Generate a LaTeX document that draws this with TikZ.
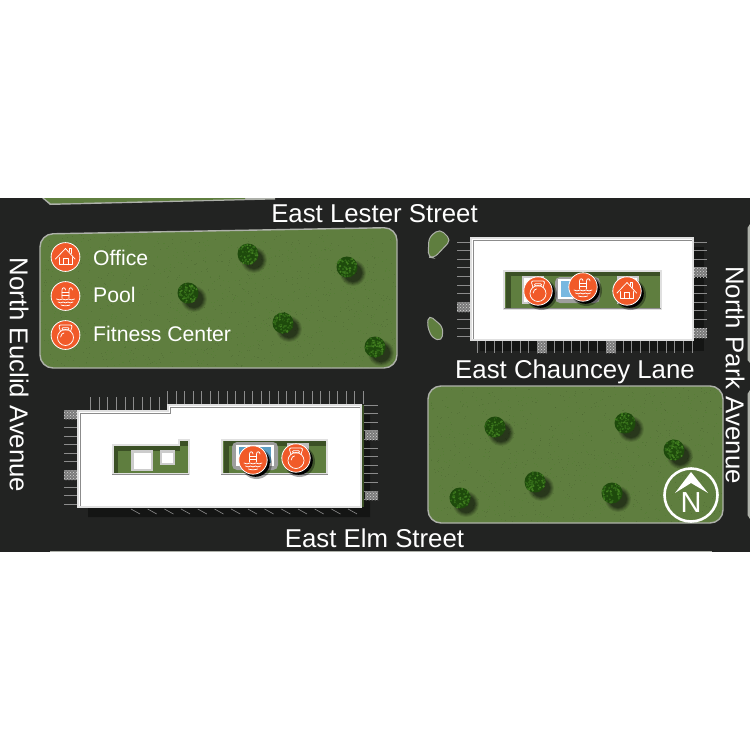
\documentclass[tikz,border=0pt]{standalone}
\usepackage{fontspec}
\setmainfont{Liberation Sans}
\usetikzlibrary{patterns}
\definecolor{road}{HTML}{222322}
\definecolor{grass}{HTML}{5F7E3F}
\definecolor{grassdark}{HTML}{3B5025}
\definecolor{orangeicon}{HTML}{F15A29}
\definecolor{edgegray}{HTML}{AEB1AA}
\definecolor{stripe}{HTML}{8C8C8C}
\definecolor{shadowc}{HTML}{141514}
\definecolor{treelite}{HTML}{427F20}
\definecolor{treedark}{HTML}{1E4A0C}
\definecolor{treemid}{HTML}{326A18}
\definecolor{poollight}{HTML}{78B8E0}
\definecolor{pooldeep}{HTML}{5C9DC2}
\colorlet{HTMLlight}{black!12}
\tikzset{
  block/.style={fill=grass,draw=edgegray,line width=1.4pt,rounded corners=13pt},
  stripeline/.style={draw=stripe,line width=0.9pt},
  streetlabel/.style={text=white,font=\fontsize{25.8}{28}\selectfont,inner sep=0pt},
  legendlabel/.style={text=white,font=\fontsize{21.2}{24}\selectfont,inner sep=0pt,anchor=west},
  iconline/.style={draw=white,line width=0.75pt,line join=round,line cap=round},
  bldg/.style={fill=white},
  bldgedge/.style={draw=stripe,line width=1pt},
  bldgouter/.style={draw=HTMLlight,line width=2pt},
  courtedge/.style={draw=HTMLlight,line width=2pt},
}
\newcommand{\hatchblock}[4]{%
  \fill[black!52] (#1,#2) rectangle (#3,#4);
  \fill[pattern=crosshatch dots,pattern color=white!85!black] (#1,#2) rectangle (#3,#4);}
\newcommand{\discbase}[2]{%
  \fill[black,opacity=.35] ({#1+3.5},{#2+3.5}) circle[radius=15.5pt];
  \fill[black] ({#1+2.5},{#2+2.5}) circle[radius=14.3pt];
  \fill[orangeicon,draw=white,line width=0.8pt] (#1,#2) circle[radius=14.2pt];}
\newcommand{\homeicon}[2]{%
  \begin{scope}[shift={(#1,#2)}]
  \draw[iconline] (-10,2) -- (0,-8.5) -- (9.5,2);
  \draw[iconline] (-6.5,0.5) -- (-6.5,7.5) -- (6.5,7.5) -- (6.5,0.5);
  \draw[iconline] (-2.5,7.5) -- (-2.5,1.5) -- (2.5,1.5) -- (2.5,7.5);
  \draw[iconline] (3.5,-5.5) -- (3.5,-8.5) -- (5.8,-8.5) -- (5.8,-3.5);
  \end{scope}}
\newcommand{\poolicon}[2]{%
  \begin{scope}[shift={(#1,#2)}]
  \draw[iconline] (-3.5,2) -- (-3.5,-6) .. controls (-3.5,-9) and (0,-9) .. (0,-6);
  \draw[iconline] (3.5,2) -- (3.5,-6) .. controls (3.5,-9) and (7,-9) .. (7,-6);
  \draw[iconline] (-3.5,-3.5) -- (3.5,-3.5) (-3.5,-0.5) -- (3.5,-0.5);
  \draw[iconline] (-9,3) .. controls (-7,4.2) and (-5,4.2) .. (-3,3) .. controls (-1,4.2) and (1,4.2) .. (3,3) .. controls (5,4.2) and (7,4.2) .. (9,3);
  \draw[iconline] (-7.5,6) .. controls (-5.5,7.2) and (-4,7.2) .. (-2.5,6) .. controls (-1,7.2) and (1,7.2) .. (2.5,6) .. controls (4,7.2) and (5.5,7.2) .. (7.5,6);
  \draw[iconline] (-4.5,9) .. controls (-2,10) and (2,10) .. (4.5,9);
  \end{scope}}
\newcommand{\kbicon}[2]{%
  \begin{scope}[shift={(#1,#2)}]
  \draw[iconline] (0,2.5) circle[radius=8pt];
  \draw[iconline,rounded corners=2pt] (-5,-3.5) -- (-7,-10) -- (7,-10) -- (5,-3.5);
  \draw[iconline,rounded corners=1pt] (-3.8,-7.2) -- (3.8,-7.2) -- (3,-5) -- (-3,-5) -- cycle;
  \draw[iconline] (-4.8,2) .. controls (-4.8,-0.5) and (-3,-1.8) .. (-1.5,-2);
  \end{scope}}
\newcommand{\treeat}[2]{%
  \foreach \rd/\op in {13/.10,12/.12,11/.14,10/.18,9/.2}{
    \fill[black,opacity=\op] ({#1+6},{#2+6}) circle[radius=\rd pt];}
  \fill[treedark] (#1,#2) circle[radius=10.5pt];
  \foreach \k in {1,...,70}{
    \pgfmathsetmacro{\ang}{rnd*360}
    \pgfmathsetmacro{\rr}{sqrt(rnd)*10}
    \pgfmathsetmacro{\tone}{int(rnd*4)}
    \ifnum\tone=0 \def\tc{treelite}\else\ifnum\tone=1 \def\tc{treedark}\else\def\tc{treemid}\fi\fi
    \fill[\tc] ({#1+\rr*cos(\ang)},{#2+\rr*sin(\ang)}) circle[radius=1.1pt];
  }}
\newcommand{\grain}[5]{%
  \begin{scope}
  \clip[rounded corners=13pt] (#1,#2) rectangle (#3,#4);
  \foreach \k in {1,...,#5}{
    \pgfmathsetmacro{\gx}{#1+rnd*(#3-#1)}
    \pgfmathsetmacro{\gy}{#2+rnd*(#4-#2)}
    \ifodd\k \def\gc{grassdark}\else\def\gc{treelite}\fi
    \fill[\gc,opacity=.25] (\gx,\gy) rectangle ({\gx+1},{\gy+1});
  }
  \end{scope}}
\begin{document}
\begin{tikzpicture}[x=1pt,y=-1pt]
\pgfmathsetseed{4217}
\useasboundingbox (0,0) rectangle (750,750);
\fill[white] (0,0) rectangle (750,750);
% road
\fill[road] (0,198) rectangle (750,552);
% slivers of neighbouring blocks
\fill[edgegray] (42,198) -- (50,205) -- (275,199.5) -- (275,198) -- cycle;
\fill[grass] (44,198) -- (51,203.5) -- (245,199) -- (245,198) -- cycle;
\fill[edgegray] (750,224) -- (747.5,228) -- (747.5,360) -- (750,363) -- cycle;
\fill[edgegray] (750,390) -- (747.5,394) -- (747.5,515) -- (750,519) -- cycle;
\fill[edgegray] (50,551) rectangle (712,552);
% grass blocks
\path[block] (40,234) -- (397,227.5) -- (397,368) -- (40,368) -- cycle;
\path[block] (428,386) -- (723,386) -- (723,523) -- (428,523) -- cycle;
\grain{41}{235}{396}{367}{1300}
\grain{429}{387}{722}{522}{1100}
% islands
\path[fill=grass,draw=edgegray,line width=1pt,rounded corners=5pt] (428,257) -- (429,237) -- (440,229) -- (451,240) -- (434,258) -- cycle;
\path[fill=grass,draw=edgegray,line width=1pt,rounded corners=5pt] (429,315) -- (443,327) -- (442,341) -- (432,338) -- (427,325) -- cycle;
% trees
\treeat{248}{254}\treeat{347}{267}\treeat{188}{293}\treeat{283}{323}\treeat{375}{347}
\treeat{495}{427}\treeat{625}{423}\treeat{674}{450}\treeat{535}{482}\treeat{612}{493}\treeat{460}{498}
% ---- upper building ----
\fill[shadowc] (480,247) rectangle (704,351);
\foreach \y in {242,250.6,...,338}{\draw[stripeline] (457,\y) -- (470,\y); \draw[stripeline] (694,\y) -- (707,\y);}
\foreach \x in {477,485.6,...,694}{\draw[stripeline] (\x,341) -- (\x,353);}
\hatchblock{457}{302}{470}{312}
\hatchblock{694}{268}{707}{277}
\hatchblock{694}{328}{707}{338}
\hatchblock{537}{341}{547}{353}
\hatchblock{606}{341}{616}{353}
\path[bldg,bldgouter] (471,238) rectangle (693,340);
\draw[bldgedge] (473,339) -- (473,240) -- (692,240);
% court
\path[fill=grass,courtedge] (504,271) rectangle (661,308.5);
\fill[grassdark] (505.5,272) rectangle (659.5,276);
\fill[grassdark] (505.5,272) rectangle (511,307.5);
\draw[stripe] (503.5,308.5) -- (661,308.5);
\fill[black!20] (522,276) rectangle (544,304);
\fill[white] (524,278) rectangle (542,302);
\fill[black!20] (617,276) rectangle (639,304);
\fill[white] (619,278) rectangle (637,302);
\fill[black!38,rounded corners=5pt] (555,277) rectangle (600,303);
\fill[white] (558,279) rectangle (590,299);
\fill[poollight] (561,281) rectangle (588,297);
\discbase{538}{291}\kbicon{538}{291}
\discbase{583}{287}\poolicon{583}{287}
\discbase{627}{291}\homeicon{627}{291}
% ---- lower building ----
\fill[shadowc] (88,421) -- (178,421) -- (178,415) -- (370,415) -- (370,517) -- (88,517) -- cycle;
\foreach \x in {90.7,99.3,...,161}{\draw[stripeline] (\x,397) -- (\x,410);}
\foreach \x in {167.7,176.2,...,364}{\draw[stripeline] (\x,391) -- (\x,404);}
\foreach \y in {427.5,436,...,506}{\draw[stripeline] (64,\y) -- (78,\y);}
\foreach \y in {405,413.6,...,504}{\draw[stripeline] (364,\y) -- (378,\y);}
\foreach \x in {131,147.7,...,355}{\draw[stripe,line width=0.6pt] (\x,509) -- ({\x+9},514);}
\hatchblock{64}{410}{78}{419}
\hatchblock{64}{470}{78}{480}
\hatchblock{365}{431}{378}{440}
\hatchblock{365}{491}{378}{500}
\fill[grassdark] (360,405) rectangle (363.5,507);
\path[bldg,bldgouter] (78,411) -- (168,411) -- (168,405) -- (361,405) -- (361,507) -- (78,507) -- cycle;
\draw[bldgedge] (80,505.5) -- (80,413) -- (170,413) -- (170,407) -- (360,407);
% courts
\path[fill=grass,courtedge] (112.5,445) -- (179,445) -- (179,440) -- (189,440) -- (189,474) -- (112.5,474) -- cycle;
\fill[grassdark] (114,446) rectangle (180,451);
\fill[grassdark] (114,446) rectangle (118,473);
\fill[grassdark] (180,441) rectangle (187.5,446);
\draw[stripe] (112,474.5) -- (189,474.5);
\fill[black!20] (131,450) rectangle (153,471);
\fill[white] (134,453) rectangle (151,469);
\fill[black!20] (160,450) rectangle (175,465);
\fill[white] (162,453) rectangle (173,463);
\path[fill=grass,courtedge] (222,440) rectangle (327,474);
\fill[grassdark] (223.5,441) rectangle (325.5,446);
\fill[grassdark] (223.5,441) rectangle (229,473);
\draw[stripe] (221,474.5) -- (328,474.5);
\fill[black!38,rounded corners=5pt] (232,442) rectangle (278,470);
\fill[white] (236,445) rectangle (274,466);
\fill[pooldeep] (239,447) rectangle (271,463);
\fill[black!25] (287,443) rectangle (309,470);
\discbase{253}{460}\poolicon{253}{460}
\discbase{296}{458}\kbicon{296}{458}
% legend
\fill[orangeicon,draw=white,line width=0.8pt] (65.5,257) circle[radius=14.4pt];\homeicon{65.5}{257}
\fill[orangeicon,draw=white,line width=0.8pt] (65.5,296) circle[radius=14.4pt];\poolicon{65.5}{296}
\fill[orangeicon,draw=white,line width=0.8pt] (65.5,335) circle[radius=14.4pt];\kbicon{65.5}{335}
\node[legendlabel] (lgoffice) at (93,258) {Office};
\node[legendlabel] (lgpool) at (93,295) {Pool};
\node[legendlabel] (lgfit) at (93,334) {Fitness Center};
% streets
\node[streetlabel] (lester) at (374.5,214) {East Lester Street};
\node[streetlabel] (chauncey) at (575,372) {East Chauncey Lane};
\node[streetlabel] (elm) at (374.5,538) {East Elm Street};
\node[streetlabel,rotate=-90] (euclid) at (19,375) {North Euclid Avenue};
\node[streetlabel,rotate=-90] (park) at (735,375) {North Park Avenue};
% compass
\draw[white,line width=2.6pt] (691,495) circle[radius=26.5pt];
\fill[white] (691,472) -- (708,493) -- (691,483) -- (675,493) -- cycle;
\node[text=white,font=\fontsize{29}{30}\selectfont,inner sep=0pt] (north) at (691,503) {N};
\end{tikzpicture}
\end{document}
